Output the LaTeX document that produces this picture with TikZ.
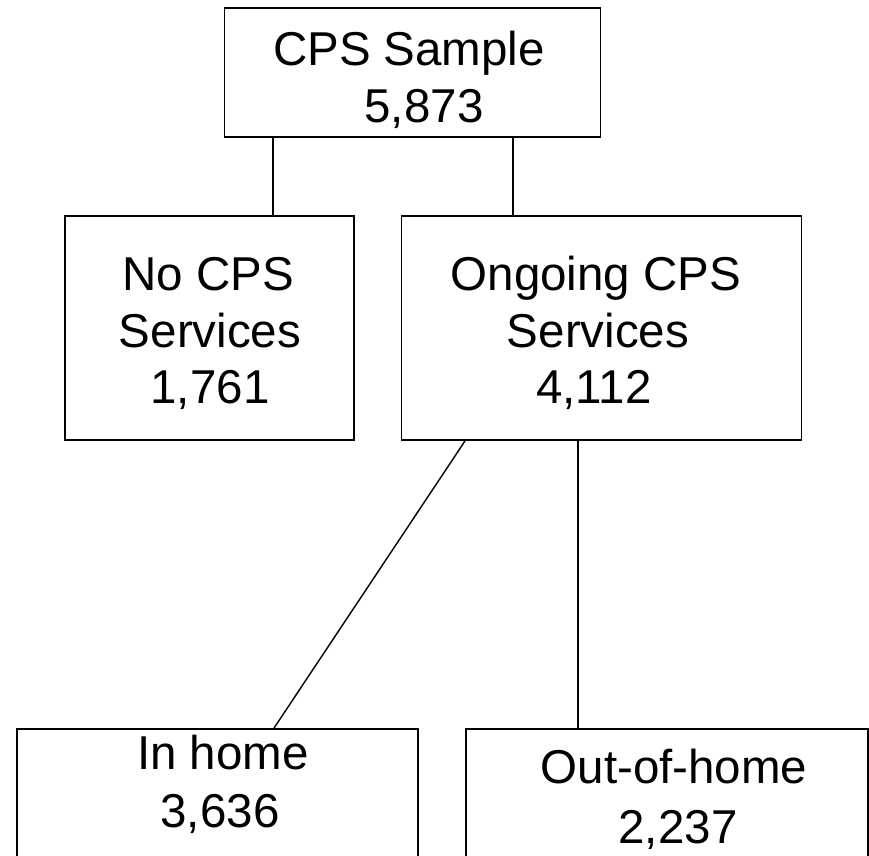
\documentclass[tikz,border=0pt]{standalone}
\usepackage{fontspec}
\setmainfont{Liberation Sans}
\begin{document}
\begin{tikzpicture}[x=1pt,y=-1pt,
  box/.style={draw=black,line width=1.9pt,rectangle,inner sep=0pt},
  lbl/.style={anchor=base,inner sep=0pt,font=\fontsize{47.5}{56}\selectfont},
  conn/.style={draw=black,line width=1.4pt}]
\useasboundingbox (0,0) rectangle (869,855);
\fill[white] (0,0) rectangle (869,855);
% boxes
\node[box,minimum width=376pt,minimum height=129pt] (top) at (412.5,72.5) {};
\node[box,minimum width=289pt,minimum height=224pt] (nocps) at (209.5,328) {};
\node[box,minimum width=400pt,minimum height=224pt] (ongo) at (601.5,328) {};
\node[box,minimum width=401pt,minimum height=160pt] (inhome) at (217.5,809) {};
\node[box,minimum width=402pt,minimum height=160pt] (outhome) at (667,809) {};
% labels
\node[lbl] (t1) at (409,65) {CPS Sample};
\node[lbl] (t2) at (424,122) {5,873};
\node[lbl] (n1) at (208,290) {No CPS};
\node[lbl] (n2) at (210,347) {Services};
\node[lbl] (n3) at (210,403) {1,761};
\node[lbl] (o1) at (596,290) {Ongoing CPS};
\node[lbl] (o2) at (598,347) {Services};
\node[lbl] (o3) at (594,403) {4,112};
\node[lbl] (i1) at (223,769) {In home};
\node[lbl] (i2) at (220,827) {3,636};
\node[lbl] (u1) at (674,783) {Out-of-home};
\node[lbl] (u2) at (678,843) {2,237};
% connectors
\coordinate (a1) at (273,0);
\coordinate (a2) at (513,0);
\coordinate (b1) at (465,0);
\coordinate (b2) at (578,0);
\coordinate (c1) at (274,0);
\draw[conn] (top.south -| a1) -- (nocps.north -| a1);
\draw[conn] (top.south -| a2) -- (ongo.north -| a2);
\draw[conn] (ongo.south -| b1) -- (inhome.north -| c1);
\draw[conn] (ongo.south -| b2) -- (outhome.north -| b2);
\end{tikzpicture}
\end{document}
